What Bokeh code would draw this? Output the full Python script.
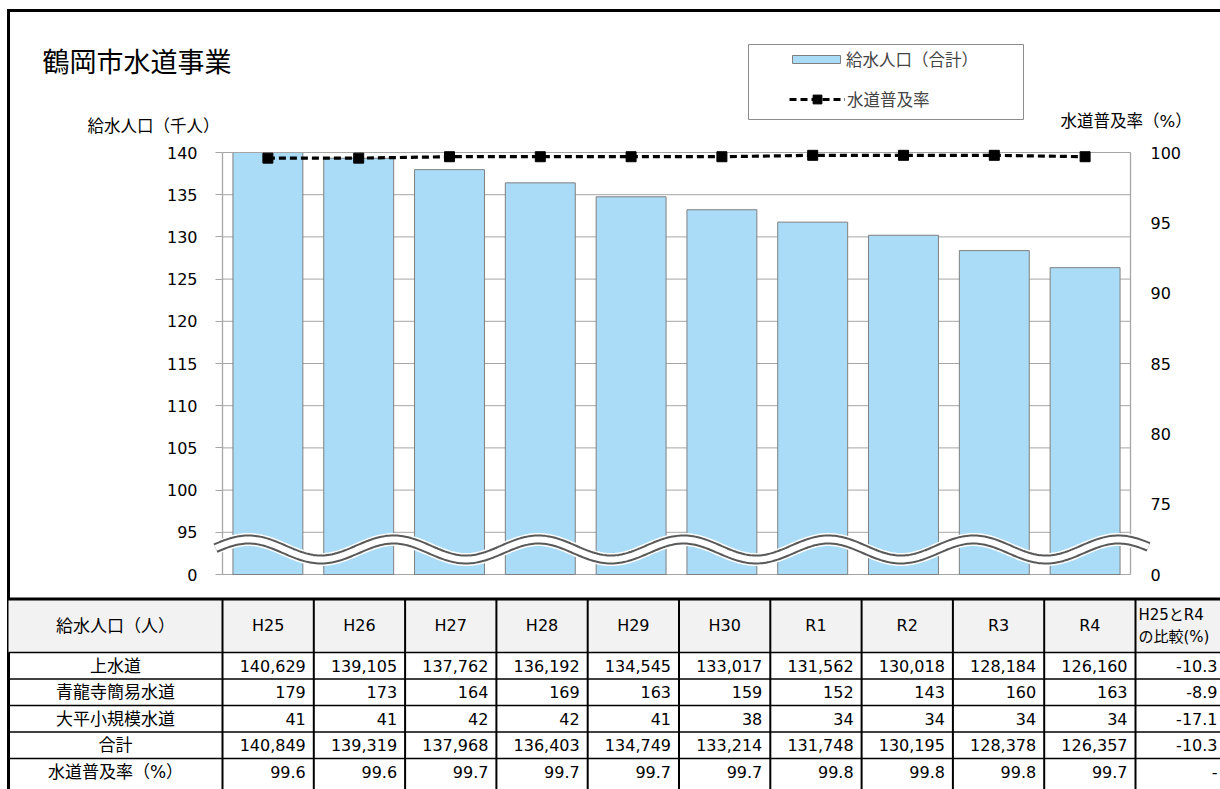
import numpy as np
from bokeh.plotting import figure
from bokeh.models import (Range1d, LinearAxis, FixedTicker, Legend, LegendItem, ColumnDataSource)
from bokeh.core.properties import value
from bokeh.embed import file_html
from bokeh.resources import INLINE

# ---------------- data ----------------
years = ["H25", "H26", "H27", "H28", "H29", "H30", "R1", "R2", "R3", "R4"]
josuido = [140629, 139105, 137762, 136192, 134545, 133017, 131562, 130018, 128184, 126160]
seiryuji = [179, 173, 164, 169, 163, 159, 152, 143, 160, 163]
ohira = [41, 41, 42, 42, 41, 38, 34, 34, 34, 34]
total = [140849, 139319, 137968, 136403, 134749, 133214, 131748, 130195, 128378, 126357]
rate = [99.6, 99.6, 99.7, 99.7, 99.7, 99.7, 99.8, 99.8, 99.8, 99.7]
compare = ["-10.3", "-8.9", "-17.1", "-10.3", "-"]
row_labels = ["上水道", "青龍寺簡易水道", "大平小規模水道", "合計", "水道普及率（%）"]
left_ticks = [90, 95, 100, 105, 110, 115, 120, 125, 130, 135, 140]
right_ticks = [70, 75, 80, 85, 90, 95, 100]
break_labels_left = {90: "0"}
break_labels_right = {70: "0"}
title_text = "鶴岡市水道事業"
left_axis_title = "給水人口（千人）"
right_axis_title = "水道普及率（%）"
bar_legend = "給水人口（合計）"
line_legend = "水道普及率"
table_corner = "給水人口（人）"
table_last_head = ["H25とR4", "の比較(%)"]

FONT = "DejaVu Sans, Noto Sans CJK JP"
fnt = value(FONT)

# ---------------- geometry (page px) ----------------
W, H = 1220, 789
AXL, STEP = 222, 90.8      # left axis line, category width
FT, FB = 152, 574          # y of axis top (140 / 100) and axis floor (0)
n = len(years)
idx = list(range(n))
ylo, yhi = left_ticks[0], left_ticks[-1]
rlo, rhi = right_ticks[0], right_ticks[-1]
ppu = (FB - FT) / (yhi - ylo)
ppu_r = (FB - FT) / (rhi - rlo)


def px2x(px):
    return -0.5 + (px - AXL) / STEP


def px2y(py):
    return yhi - (py - FT) / ppu


p = figure(width=W, height=H, output_backend="svg", toolbar_location=None, title=None,
           x_range=Range1d(px2x(0), px2x(W)), y_range=Range1d(px2y(H), px2y(0)),
           x_axis_location=None, y_axis_location=None,
           min_border_left=0, min_border_right=0, min_border_top=0, min_border_bottom=0)
p.outline_line_color = None
p.grid.visible = False
p.background_fill_color = "white"
p.border_fill_color = "white"
p.extra_y_ranges = {"rate": Range1d(rlo - (H - FB) / ppu_r, rhi + FT / ppu_r),
                    "px": Range1d(H, 0)}
p.extra_x_ranges = {"px": Range1d(0, W)}
PX = dict(x_range_name="px", y_range_name="px")

GRID = "#A6A6A6"
ly = LinearAxis(fixed_location=-0.5, ticker=FixedTicker(ticks=left_ticks),
                major_label_overrides=break_labels_left,
                axis_line_color=None, major_tick_line_color=GRID, minor_tick_line_color=None,
                major_tick_in=0, major_tick_out=7, major_label_standoff=18,
                major_label_text_font=FONT, major_label_text_font_size="16px",
                major_label_text_color="black")
p.add_layout(ly, "left")
ry = LinearAxis(fixed_location=n - 0.5, y_range_name="rate", ticker=FixedTicker(ticks=right_ticks),
                major_label_overrides=break_labels_right,
                axis_line_color=None, major_tick_line_color=None, minor_tick_line_color=None,
                major_tick_in=0, major_tick_out=0, major_label_standoff=20,
                major_label_text_font=FONT, major_label_text_font_size="16px",
                major_label_text_color="black")
p.add_layout(ry, "right")

# ---------------- outer frame of the chart ----------------
p.segment(x0=[8, 6.5], y0=[8.5, 10], x1=[8, W], y1=[H, 10], line_color="black",
          line_width=3, **PX)

# ---------------- chart ----------------
p.segment(x0=[-0.5] * len(left_ticks), y0=left_ticks, x1=[n - 0.5] * len(left_ticks),
          y1=left_ticks, line_color=GRID, line_width=1)

src = ColumnDataSource(dict(x=idx, top=[t / 1000 for t in total], year=years))
bars = p.vbar(x="x", top="top", bottom=ylo, width=0.77, source=src,
              fill_color="#ABDCF7", line_color="#7F7F7F", line_width=1)
# axis top clips the bars (white mask above the axis maximum)
p.quad(left=[-0.5], right=[n - 0.5], bottom=[yhi], top=[yhi + 12 / ppu],
       fill_color="white", line_color=None)
p.segment(x0=[-0.5], y0=[yhi], x1=[n - 0.5], y1=[yhi], line_color=GRID, line_width=1)
p.segment(x0=[-0.5, n - 0.5], y0=[ylo, ylo], x1=[-0.5, n - 0.5], y1=[yhi, yhi],
          line_color=GRID, line_width=1.3)

# axis break wave (decoration)
wx = np.linspace(px2x(215), px2x(1148), 500)
wc = px2y(549)
wa = 10 / ppu
wphase = px2x(248)
wper = 145 / STEP
wy = wc + wa * np.cos(2 * np.pi * (wx - wphase) / wper)
p.line(wx, wy, line_color="white", line_width=13)
p.line(wx, wy, line_color="#595959", line_width=10)
p.line(wx, wy, line_color="white", line_width=6)

ln = p.line(idx, rate, y_range_name="rate", line_color="black", line_width=3.2, line_dash="7 4")
sc = p.scatter(idx, rate, y_range_name="rate", marker="square", size=10,
               fill_color="black", line_color="black")

# ---------------- titles ----------------
p.text(x=[42], y=[62], text=[title_text], text_font=fnt, text_font_size=value("27px"),
       text_baseline="middle", text_align="left", text_color="black", **PX)
p.text(x=[87, 1060], y=[126, 121], text=[left_axis_title, right_axis_title], text_font=fnt,
       text_font_size=value("16.5px"), text_baseline="middle", text_align="left",
       text_color="black", **PX)

# ---------------- legend ----------------
p.quad(left=[748], right=[1023], top=[44], bottom=[119], fill_color=None,
       line_color="#8C8C8C", line_width=1, **PX)
leg_common = dict(padding=0, margin=0, spacing=0, label_text_font=FONT,
                  label_text_font_size="16.5px", border_line_color=None,
                  background_fill_alpha=0)
legend_bar = Legend(items=[LegendItem(label=bar_legend, renderers=[bars])],
                    location=(786, H - 71), glyph_width=60, glyph_height=10,
                    label_height=20, label_standoff=0, **leg_common)
legend_line = Legend(items=[LegendItem(label=line_legend, renderers=[ln, sc])],
                     location=(789, H - 111), glyph_width=56, glyph_height=22,
                     label_height=22, label_standoff=2, **leg_common)
p.add_layout(legend_bar)
p.add_layout(legend_line)

# ---------------- table ----------------
TT = 598
col_w = 91.3
edges = [AXL + col_w * k for k in range(n + 1)]
HDR_B = 652
RH = 26.5
row_edges = [HDR_B + RH * k for k in range(6)]

p.quad(left=[8], right=[W], top=[TT], bottom=[HDR_B], fill_color="#F2F2F2", line_color=None, **PX)
p.segment(x0=[8] * 5, y0=row_edges[:5], x1=[W] * 5, y1=row_edges[:5],
          line_color="black", line_width=1.3, **PX)
p.segment(x0=edges, y0=[TT] * len(edges), x1=edges, y1=[H] * len(edges),
          line_color="black", line_width=2, **PX)
p.segment(x0=[6.5], y0=[TT + 0.5], x1=[W], y1=[TT + 0.5],
          line_color="black", line_width=3, **PX)

fs = value("16px")
fs_jp = value("17px")
centers = [(edges[k] + edges[k + 1]) / 2 for k in range(n)]
first_c = (8 + edges[0]) / 2
hdr_c = (TT + HDR_B) / 2
p.text(x=[first_c], y=[hdr_c], text=[table_corner], text_font=fnt, text_font_size=fs_jp,
       text_align="center", text_baseline="middle", text_color="black", **PX)
p.text(x=centers, y=[hdr_c] * n, text=years,
       text_font=fnt, text_font_size=fs, text_align="center", text_baseline="middle",
       text_color="black", **PX)
p.text(x=[edges[-1] + 3, edges[-1] + 3], y=[hdr_c - 11, hdr_c + 11], text=table_last_head,
       text_font=fnt, text_font_size=value("15px"), text_align="left", text_baseline="middle",
       text_color="black", **PX)

rcent = [(row_edges[k] + row_edges[k + 1]) / 2 for k in range(5)]
p.text(x=[first_c] * 5, y=rcent, text=row_labels, text_font=fnt, text_font_size=fs_jp,
       text_align="center", text_baseline="middle", text_color="black", **PX)

series = [josuido, seiryuji, ohira, total, rate]
cx, cy, ct = [], [], []
for r, vals in enumerate(series):
    for c, v in enumerate(vals):
        cx.append(edges[c + 1] - 8)
        cy.append(rcent[r])
        ct.append(f"{v:.1f}" if r == 4 else f"{v:,}")
    cx.append(W - 3)
    cy.append(rcent[r])
    ct.append(compare[r])
p.text(x=cx, y=cy, text=ct, text_font=fnt, text_font_size=fs, text_align="right",
       text_baseline="middle", text_color="black", **PX)

open("out.html", "w").write(file_html(p, INLINE))
